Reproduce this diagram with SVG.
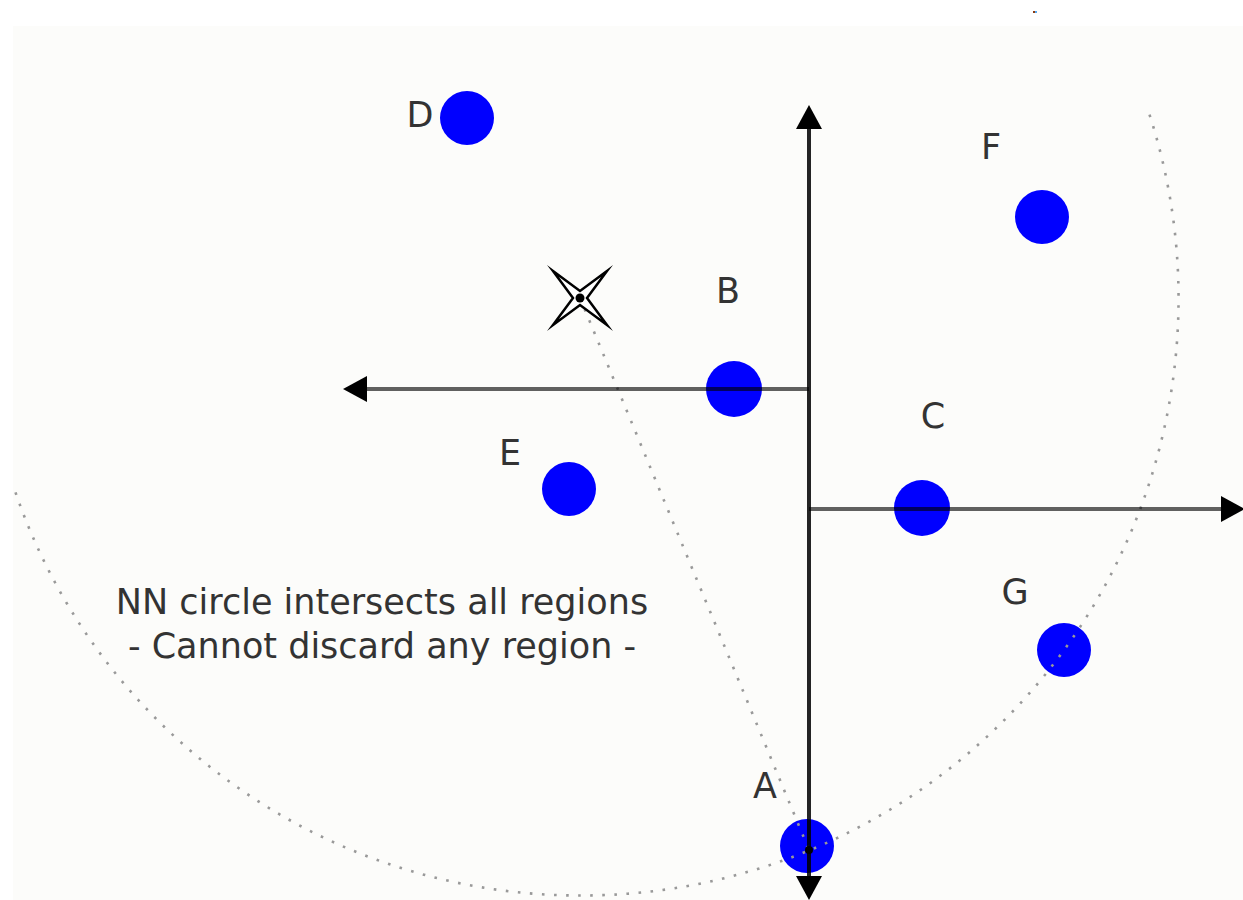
<svg xmlns="http://www.w3.org/2000/svg" width="1243" height="900" viewBox="0 0 1243 900">
<style>
.pt{fill:#0000ff}
.lbl{font-family:"DejaVu Sans",sans-serif;font-size:35px;fill:#333;text-anchor:middle}
.axis{stroke:#000;stroke-opacity:0.62;stroke-width:4;fill:none}
.dot{stroke:#999;stroke-width:2.6;stroke-dasharray:2.6 9.5;stroke-linecap:butt;fill:none}
</style>
<defs>
<marker id="ah" viewBox="0 0 24 26" refX="0" refY="13" markerWidth="24" markerHeight="26" markerUnits="userSpaceOnUse" orient="auto">
<path d="M0,0 L24,13 L0,26 Z" fill="#000"/>
</marker>
</defs>
<rect x="0" y="0" width="1243" height="900" fill="#ffffff"/>
<rect x="13" y="26" width="1230" height="874" fill="#fcfcfa"/>
<rect x="1033" y="11" width="2" height="2" fill="#8a3a10"/>
<rect x="1035" y="11" width="2" height="2" fill="#5aaaf0"/>

<g id="D"><circle class="pt" cx="467" cy="118" r="27"/><text class="lbl" x="420" y="127">D</text></g>
<g id="F"><circle class="pt" cx="1042" cy="217" r="27"/><text class="lbl" x="991" y="159">F</text></g>
<g id="B"><circle class="pt" cx="734" cy="389" r="28"/><text class="lbl" x="728" y="303">B</text></g>
<g id="E"><circle class="pt" cx="569" cy="489" r="27"/><text class="lbl" x="510" y="465">E</text></g>
<g id="C"><circle class="pt" cx="922" cy="508" r="28"/><text class="lbl" x="933" y="428">C</text></g>
<g id="G"><circle class="pt" cx="1064" cy="650" r="27"/><text class="lbl" x="1015" y="604">G</text></g>
<g id="A"><circle class="pt" cx="807" cy="846" r="27"/><text class="lbl" x="765" y="798">A</text></g>

<g id="connectors">
<path class="dot" d="M580,298 L809,850"/>
<path class="dot" d="M15.5,492.4 A597,597 0 0 0 580,895.5 A597,597 0 0 0 1147,107"/>
<line class="axis" x1="809" y1="129" x2="809" y2="876" marker-end="url(#ah)"/>
<line class="axis" x1="809" y1="876" x2="809" y2="129" marker-end="url(#ah)"/>
<line class="axis" x1="809" y1="389" x2="367" y2="389" marker-end="url(#ah)"/>
<line class="axis" x1="809" y1="509" x2="1221" y2="509" marker-end="url(#ah)"/>
</g>

<g id="query">
<polygon points="553,271 580,291 607,271 587,298 607,325 580,305 553,325 573,298" fill="#fff" stroke="#000" stroke-width="2.5" stroke-linejoin="miter" stroke-miterlimit="10"/>
<circle cx="580" cy="298" r="4.5" fill="#000"/>
<circle cx="809" cy="850" r="4" fill="#000"/>
</g>

<g id="caption">
<text class="lbl" x="382" y="614">NN circle intersects all regions</text>
<text class="lbl" x="382" y="658">- Cannot discard any region -</text>
</g>
</svg>
